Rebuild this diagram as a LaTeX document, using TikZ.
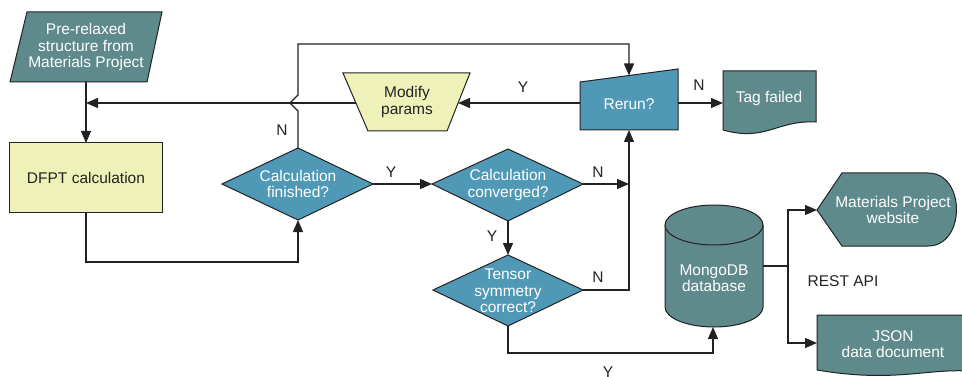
\documentclass[tikz,border=0pt]{standalone}
\usepackage{fontspec}
\setmainfont{Liberation Sans}
\usetikzlibrary{arrows.meta}
\definecolor{tealc}{HTML}{5F8A8B}
\definecolor{bluec}{HTML}{5099B6}
\definecolor{yelc}{HTML}{EEF2B8}
\definecolor{edgec}{HTML}{222222}
\begin{document}
\begin{tikzpicture}[x=1pt,y=-1pt,
  shp/.style={draw=edgec, line width=1pt},
  tealshp/.style={shp, fill=tealc},
  blueshp/.style={shp, fill=bluec},
  yelshp/.style={shp, fill=yelc},
  txtw/.style={text=white, align=center, font=\fontsize{15.5}{16.5}\selectfont, inner sep=0pt},
  txtk/.style={text=edgec, align=center, font=\fontsize{15.5}{16.5}\selectfont, inner sep=0pt},
  lbl/.style={text=edgec, font=\fontsize{15.5}{16.5}\selectfont, inner sep=0pt},
  conn/.style={draw=edgec, line width=1.3pt, -{Triangle[length=12pt,width=10pt]}},
  plain/.style={draw=edgec, line width=1.3pt}]
\clip (0,0) rectangle (962,377);
\fill[white] (0,0) rectangle (962,377);

% shapes
\path[tealshp] (27,12) -- (162,12) -- (147,82) -- (10,82) -- cycle;
\node[txtw] (pre) at (86,47) {Pre-relaxed\\structure from\\Materials Project};

\path[yelshp] (9,143) rectangle (162,213);
\node[txtk] (dfpt) at (86,178) {DFPT calculation};

\path[blueshp] (222,184) -- (298,148) -- (373,184) -- (298,220) -- cycle;
\node[txtw] (fin) at (298,184) {Calculation\\finished?};

\path[blueshp] (432,184) -- (508,149) -- (583,184) -- (508,221) -- cycle;
\node[txtw] (conv) at (508,185) {Calculation\\converged?};

\path[blueshp] (433,290) -- (508,255) -- (583,290) -- (508,326) -- cycle;
\node[txtw] (tens) at (508,291) {Tensor\\symmetry\\correct?};

\path[yelshp] (343,73) -- (470,73) -- (447,131) -- (368,131) -- cycle;
\node[txtk] (mod) at (407,102) {Modify\\params};

\path[blueshp] (580,82) -- (678,69) -- (678,130) -- (580,130) -- cycle;
\node[txtw] (rerun) at (629,104) {Rerun?};

\path[tealshp] (723,71) -- (816,71) -- (816,122) .. controls (776,120) and (766,142) .. (723,130) -- cycle;
\node[txtw] (tag) at (769,98) {Tag failed};

\path[tealshp] (665,225) -- (665,307) arc[start angle=180, end angle=0, x radius=49, y radius=20]
  -- (763,225) arc[start angle=0, end angle=-180, x radius=49, y radius=20] -- cycle;
\draw[shp] (665,225) arc[start angle=180, end angle=0, x radius=49, y radius=20];
\node[txtw] (db) at (714,278) {MongoDB\\database};

\path[tealshp] (817,210) -- (842,173) -- (928,173) .. controls (966,173) and (966,246) .. (928,246) -- (842,246) -- cycle;
\node[txtw] (web) at (893,210) {Materials Project\\website};

\path[tealshp] (817,315) -- (980,315) -- (980,372) .. controls (930,366) and (900,384) .. (817,370) -- cycle;
\node[txtw] (json) at (893,344) {JSON\\data document};

\node[lbl] (rest) at (843,281) {REST API};

% connector coordinates
\coordinate (preB) at (86,82);
\coordinate (dfptT) at (86,143);
\coordinate (dfptB) at (86,213);
\coordinate (finB) at (298,220);
\coordinate (finT) at (298,148);
\coordinate (finR) at (373,184);
\coordinate (convL) at (432,184);
\coordinate (convR) at (583,184);
\coordinate (convB) at (508,221);
\coordinate (tensT) at (508,255);
\coordinate (tensR) at (583,290);
\coordinate (tensB) at (508,326);
\coordinate (vbus) at (629,184);
\coordinate (rerunB) at (629,130);
\coordinate (rerunT) at (629,75.5);
\coordinate (rerunL) at (580,103);
\coordinate (rerunR) at (678,103);
\coordinate (modR) at (458,103);
\coordinate (modL) at (356,103);
\coordinate (junc) at (86,103);
\coordinate (tagL) at (723,103);
\coordinate (dbB) at (713,327);
\coordinate (dbR) at (763,266);
\coordinate (split) at (788,266);
\coordinate (webL) at (817,210);
\coordinate (jsonL) at (817,343);

% connectors
\draw[conn] (preB) -- (dfptT);
\draw[conn] (modL) -- (junc);
\draw[conn] (dfptB) -- (86,262) -| (finB);
\draw[conn] (finR) -- (convL);
\draw[conn] (convR) -- (vbus);
\draw[conn] (convB) -- (tensT);
\draw[conn] (tensR) -| (rerunB);
\draw[conn] (tensB) -- (508,353) -| (dbB);
\draw[conn] (finT) -- (298,111) -- (290,103) -- (298,95) -- (298,44) -| (rerunT);
\draw[conn] (rerunL) -- (modR);
\draw[conn] (rerunR) -- (tagL);
\draw[plain] (dbR) -- (split);
\draw[conn] (split) |- (webL);
\draw[conn] (split) |- (jsonL);

% labels
\node[lbl] (lY1) at (391,172) {Y};
\node[lbl] (lN1) at (598,172) {N};
\node[lbl] (lY2) at (492,236) {Y};
\node[lbl] (lN2) at (598,277) {N};
\node[lbl] (lY3) at (608,372) {Y};
\node[lbl] (lN3) at (282,130) {N};
\node[lbl] (lY4) at (523,87) {Y};
\node[lbl] (lN4) at (699,85) {N};
\end{tikzpicture}
\end{document}
